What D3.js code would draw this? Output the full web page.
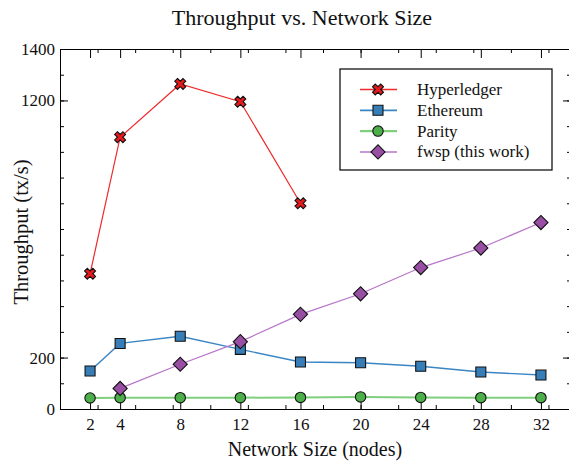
<!DOCTYPE html>
<html>
<head>
<meta charset="utf-8">
<script src="https://cdn.jsdelivr.net/npm/d3@7"></script>
<style>
  body { margin: 0; background: #fff; }
  svg text { font-family: "Liberation Serif", "Times New Roman", serif; fill: #111; }
  .axis path, .axis line { stroke: #000; }
</style>
</head>
<body>
<svg id="chart" width="569" height="464"></svg>
<script>
// data
var nodes = [2, 4, 8, 12, 16, 20, 24, 28, 32];
var hyperNodes = [2, 4, 8, 12, 16];
var hyperledger = [526, 1057, 1264, 1195, 800];
var ethereum = [148, 255, 283, 232, 183, 180, 166, 144, 132];
var parity = [43, 44, 44, 44, 45, 47, 45, 44, 44];
var fwspNodes = [4, 8, 12, 16, 20, 24, 28, 32];
var fwsp = [80, 174, 262, 368, 448, 550, 626, 725];
var yLabelTicks = [0, 200, 1200, 1400];

var svg = d3.select("#chart"),
    margin = {top: 49, right: -2, bottom: 55, left: 60},
    width = +svg.attr("width") - margin.left - margin.right,
    height = +svg.attr("height") - margin.top - margin.bottom;

var x = d3.scaleLinear().domain([0, 34]).range([0, width]),
    y = d3.scaleLinear().domain([0, 1400]).range([height, 0]);

var g = svg.append("g")
    .attr("transform", "translate(" + margin.left + "," + margin.top + ")");

var minorX = d3.range(2.5, 34, 2.5),
    minorY = d3.range(0, 1401, 100);

// minor ticks
g.append("g").attr("class", "axis").attr("transform", "translate(0," + height + ")")
    .call(d3.axisBottom(x).tickValues(minorX).tickSize(-4).tickFormat(""))
    .call(function(s) { s.select(".domain").remove(); });
g.append("g").attr("class", "axis")
    .call(d3.axisTop(x).tickValues(minorX).tickSize(-4).tickFormat(""))
    .call(function(s) { s.select(".domain").remove(); });
g.append("g").attr("class", "axis")
    .call(d3.axisLeft(y).tickValues(minorY).tickSize(-4).tickFormat(""))
    .call(function(s) { s.select(".domain").remove(); });
g.append("g").attr("class", "axis").attr("transform", "translate(" + width + ",0)")
    .call(d3.axisRight(y).tickValues(minorY).tickSize(-4).tickFormat(""))
    .call(function(s) { s.select(".domain").remove(); });

// major axes
g.append("g").attr("class", "axis axis--x").attr("transform", "translate(0," + height + ")")
    .call(d3.axisBottom(x).tickValues(nodes).tickSize(-9).tickSizeOuter(0).tickPadding(9))
    .call(function(s) { s.selectAll("text").attr("font-size", 17); });
g.append("g").attr("class", "axis")
    .call(d3.axisTop(x).tickValues(nodes).tickSize(-9).tickSizeOuter(0).tickFormat(""));
g.append("g").attr("class", "axis axis--y")
    .call(d3.axisLeft(y).tickValues(yLabelTicks).tickSize(-8).tickSizeOuter(0).tickPadding(5).tickFormat(d3.format("d")))
    .call(function(s) { s.selectAll("text").attr("font-size", 17); });
g.append("g").attr("class", "axis").attr("transform", "translate(" + width + ",0)")
    .call(d3.axisRight(y).tickValues(yLabelTicks).tickSize(-8).tickSizeOuter(0).tickFormat(""));

svg.selectAll(".axis text").style("font-family", "'Liberation Serif', serif").attr("fill", "#111");

// titles
svg.append("text").attr("x", 302).attr("y", 25).attr("text-anchor", "middle")
    .attr("font-size", 22).text("Throughput vs. Network Size");
svg.append("text").attr("x", 315).attr("y", 456).attr("text-anchor", "middle")
    .attr("font-size", 20).text("Network Size (nodes)");
svg.append("text").attr("transform", "translate(28,232) rotate(-90)").attr("text-anchor", "middle")
    .attr("font-size", 20.5).text("Throughput (tx/s)");

var series = [
  {name: "Hyperledger", xs: hyperNodes, ys: hyperledger, line: "#ee2a2a", fill: "#e41a1c", lw: 1.2,
   sym: d3.symbol(d3.symbolCross, 75), rot: 45},
  {name: "Ethereum", xs: nodes, ys: ethereum, line: "#3a85c4", fill: "#377eb8", lw: 1.4,
   sym: d3.symbol(d3.symbolSquare, 100), rot: 0},
  {name: "Parity", xs: nodes, ys: parity, line: "#7fcf7c", fill: "#4daf4a", lw: 2,
   sym: d3.symbol(d3.symbolCircle, 85), rot: 0},
  {name: "fwsp (this work)", xs: fwspNodes, ys: fwsp, line: "#b774c9", fill: "#984ea3", lw: 1.2,
   sym: d3.symbol(d3.symbolSquare, 100), rot: 45}
];

var line = d3.line().x(function(d) { return x(d[0]); }).y(function(d) { return y(d[1]); });

// draw Parity first so others sit on top like the reference
[2, 1, 3, 0].forEach(function(i) {
  var s = series[i];
  var pts = s.xs.map(function(v, j) { return [v, s.ys[j]]; });
  g.append("path").datum(pts).attr("d", line)
      .attr("fill", "none").attr("stroke", s.line).attr("stroke-width", s.lw);
  g.selectAll(".m" + i).data(pts).enter().append("path")
      .attr("class", "m" + i)
      .attr("d", s.sym)
      .attr("transform", function(d) { return "translate(" + x(d[0]) + "," + y(d[1]) + ") rotate(" + s.rot + ")"; })
      .attr("fill", s.fill).attr("stroke", "#111").attr("stroke-width", 1.1);
});

// legend
var lg = svg.append("g").attr("transform", "translate(340,69)");
lg.append("rect").attr("width", 212).attr("height", 101)
    .attr("fill", "#fff").attr("stroke", "#000").attr("stroke-width", 1.2);
series.forEach(function(s, i) {
  var yy = 20.5 + i * 20.8;
  lg.append("line").attr("x1", 20).attr("x2", 57).attr("y1", yy).attr("y2", yy)
      .attr("stroke", s.line).attr("stroke-width", s.lw + 0.3);
  lg.append("path").attr("d", s.sym)
      .attr("transform", "translate(38," + yy + ") rotate(" + s.rot + ")")
      .attr("fill", s.fill).attr("stroke", "#111").attr("stroke-width", 1.1);
  lg.append("text").attr("x", 77).attr("y", yy + 5.5).attr("font-size", 17).text(s.name);
});
</script>
</body>
</html>
